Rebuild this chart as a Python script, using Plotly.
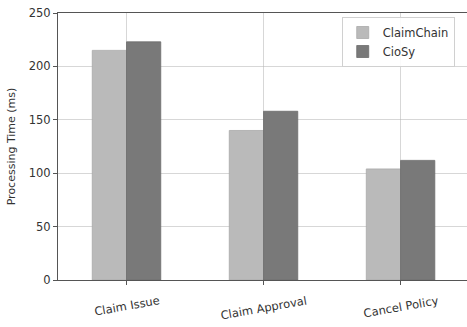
import plotly.graph_objects as go

categories = ["Claim Issue", "Claim Approval", "Cancel Policy"]
claimchain_ms = [215, 140, 104]
ciosy_ms = [223, 158, 112]
y_ticks = [0, 50, 100, 150, 200, 250]

font_family = "DejaVu Sans"
grid_color = "rgba(182,182,182,0.55)"
spine_color = "#555555"
text_color = "#333333"

fig = go.Figure()
fig.add_trace(go.Bar(
    x=categories, y=claimchain_ms, name="ClaimChain",
    marker=dict(color="#bababa", line=dict(color="#a9a9a9", width=0.8)),
))
fig.add_trace(go.Bar(
    x=categories, y=ciosy_ms, name="CioSy",
    marker=dict(color="#797979", line=dict(color="#6c6c6c", width=0.8)),
))

# category labels, tilted and centred under their ticks
for cat in categories:
    fig.add_annotation(
        x=cat, y=0, xref="x", yref="y",
        text=cat, showarrow=False, textangle=-10,
        xanchor="center", yanchor="top", yshift=-11,
        font=dict(family=font_family, size=11.5, color=text_color),
    )

fig.update_layout(
    width=467, height=327,
    margin=dict(l=58, r=0, t=13, b=47),
    paper_bgcolor="white", plot_bgcolor="white",
    barmode="group", bargap=0.5, bargroupgap=0,
    font=dict(family=font_family, size=11, color=text_color),
    showlegend=True,
    legend=dict(
        x=0.97, y=0.985, xanchor="right", yanchor="top",
        bgcolor="rgba(255,255,255,0.9)", bordercolor="#d0d0d0", borderwidth=1,
        font=dict(size=11.5, color=text_color),
        itemwidth=30, tracegroupgap=0,
    ),
)

fig.update_xaxes(
    type="category", range=[-0.5, 2.485],
    showline=True, linecolor=spine_color, linewidth=1, mirror=True,
    ticks="outside", ticklen=4, tickcolor=spine_color,
    showgrid=True, gridcolor=grid_color, gridwidth=1,
    showticklabels=False, layer="above traces",
)
fig.update_yaxes(
    range=[0, 250], tickvals=y_ticks,
    showline=True, linecolor=spine_color, linewidth=1,
    ticks="outside", ticklen=4, tickcolor=spine_color,
    showgrid=True, gridcolor=grid_color, gridwidth=1, zeroline=False,
    layer="above traces",
    title=dict(text="Processing Time (ms)", font=dict(size=11, color=text_color), standoff=10),
    tickfont=dict(size=11.5, color=text_color),
)

fig.write_html("out.html")
